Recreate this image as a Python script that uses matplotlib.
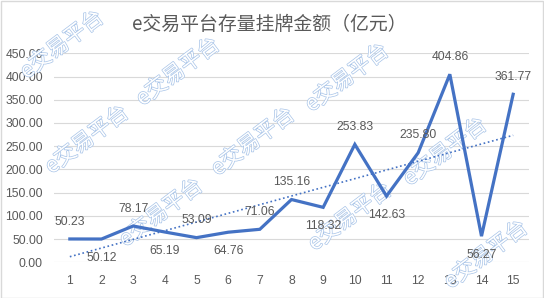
import numpy as np
import matplotlib
matplotlib.use("Agg")
import matplotlib.pyplot as plt
import matplotlib.patheffects as pe
from matplotlib.patches import Rectangle

plt.rcParams['font.family'] = ['Liberation Sans', 'Noto Sans CJK SC', 'DejaVu Sans']

title = "e交易平台存量挂牌金额（亿元）"
periods = list(range(1, 16))
values = [50.23, 50.12, 78.17, 65.19, 53.09, 64.76, 71.06, 135.16, 118.32,
          253.83, 142.63, 235.80, 404.86, 56.27, 361.77]
label_pos = ['above', 'below', 'above', 'below', 'above', 'below', 'above', 'above',
             'below', 'above', 'below', 'above', 'above', 'below', 'above']
yticks = [0, 50, 100, 150, 200, 250, 300, 350, 400, 450]
watermark = "e交易平台"
# watermark centres in figure pixels (x, y from top)
wm_centres = [(62, 45), (178, 72), (347, 78), (87, 140), (253, 142), (445, 152),
              (161, 213), (350, 217), (486, 255)]

W, H = 544, 298
fig = plt.figure(figsize=(W / 100, H / 100), dpi=100)
fig.patch.set_facecolor('white')
ax = fig.add_axes([54 / W, 1 - 262.3 / H, (529 - 54) / W, (262.3 - 53.3) / H])

line_color = '#4472C4'
text_color = '#595959'

ax.plot(periods, values, color=line_color, lw=2.3, solid_joinstyle='miter', zorder=3)

# linear trend line
coef = np.polyfit(periods, values, 1)
trend = np.polyval(coef, periods)
ax.plot(periods, trend, color=line_color, lw=1.2, linestyle=(0, (1, 1.6)), zorder=3)

for x, v, p in zip(periods, values, label_pos):
    off = 12.5 if p == 'above' else -13.5
    ax.annotate(f"{v:.2f}", (x, v), xytext=(0, off), textcoords='offset points',
                ha='center', va='center', fontsize=8.7, color=text_color, zorder=4)

ax.set_xlim(0.5, 15.5)
ax.set_ylim(0, 450)
ax.set_yticks(yticks)
ax.set_yticklabels([f"{t:.2f}" for t in yticks])
ax.set_xticks(periods)
ax.set_xticklabels([str(p) for p in periods])
ax.tick_params(axis='both', length=0, labelsize=8.7, labelcolor=text_color)
ax.tick_params(axis='y', pad=8)
ax.tick_params(axis='x', pad=9)
ax.grid(axis='y', color='#D9D9D9', lw=0.8)
ax.set_axisbelow(True)
for s in ax.spines.values():
    s.set_visible(False)

fig.text(269 / W, 1 - 24 / H, title, ha='center', va='center', fontsize=13.6,
         color=text_color, family=['Noto Sans CJK SC', 'DejaVu Sans'])

for (cx, cy) in wm_centres:
    ax.text(cx / W, 1 - cy / H, watermark, transform=fig.transFigure, clip_on=False,
            ha='center', va='center', rotation=37, rotation_mode='anchor',
            fontsize=15.5, color='white', zorder=2,
            family=['Noto Sans CJK SC', 'DejaVu Sans'],
            path_effects=[pe.Stroke(linewidth=1.0, foreground='#A8C4E8'), pe.Normal()])

fig.patches.append(Rectangle((0.5 / W, 0.5 / H), 1 - 1.5 / W, 1 - 1.5 / H,
                             transform=fig.transFigure, fill=False,
                             edgecolor='#D9D9D9', lw=1))

fig.savefig("out.png", dpi=100)
